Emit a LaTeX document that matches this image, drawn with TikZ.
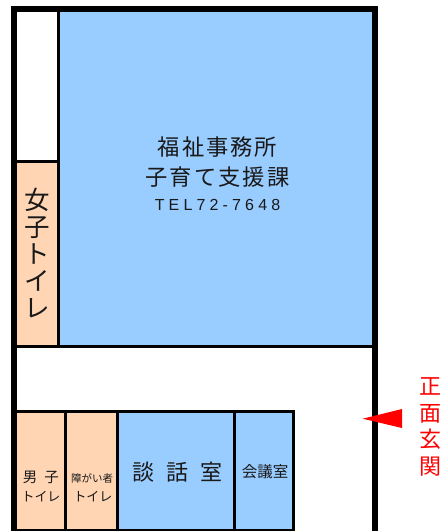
\documentclass[tikz,border=0pt]{standalone}
\usepackage{fontspec}
\setmainfont{Noto Sans CJK JP}
\newfontfamily\telfont[LetterSpace=26]{Liberation Sans}
\newfontfamily\spacedfont[LetterSpace=9]{Noto Sans CJK JP}
\usetikzlibrary{positioning}
\definecolor{roomblue}{HTML}{99CCFF}
\definecolor{roompeach}{HTML}{FFD5B3}
\tikzset{
  wall/.style={line width=3pt, line join=miter},
  outerwall/.style={line width=6pt, line join=miter},
  label/.style={inner sep=0pt, align=center, text=black!90},
}
\begin{document}
\begin{tikzpicture}[x=1pt, y=-1pt]
\useasboundingbox (0,0) rectangle (444,531);
% rooms
\fill[roomblue] (58.5,12) rectangle (373,346.5);
\fill[roompeach] (15,161.5) rectangle (58.5,346.5);
\fill[roompeach] (15,411.5) rectangle (117.5,530);
\fill[roomblue] (117.5,411.5) rectangle (293.5,530);
% inner walls
\draw[wall] (58.5,10)--(58.5,346.5);
\draw[wall] (15,161.5)--(58.5,161.5);
\draw[wall] (15,346.5)--(373,346.5);
\draw[wall] (15,411.5)--(293.5,411.5)--(293.5,530);
\draw[wall] (65.5,411.5)--(65.5,530);
\draw[wall] (117.5,411.5)--(117.5,530);
\draw[wall] (234.5,411.5)--(234.5,530);
\draw[line width=3pt] (11,530.2)--(295,530.2);
% outer walls
\draw[outerwall] (14,531)--(14,9)--(375,9)--(375,531);
% entrance
\fill[red] (362.7,418.7)--(402,409)--(402,428)--cycle;
% labels
\node[label, font=\fontsize{22.3}{30}\spacedfont] (office) at (217.5,162) {福祉事務所\\子育て支援課};
\node[label, font=\fontsize{16}{18}\telfont] (tel) at (217.5,205) {TEL72-7648};
\node[label, font=\fontsize{25.5}{27}\selectfont] (women) at (37,253.5) {女\\子\\ト\\イ\\レ};
\node[label, font=\fontsize{14.5}{16}\selectfont] (men) at (41,477) {男\hspace{7pt}子};
\node[label, font=\fontsize{13}{14}\selectfont] (mentoilet) at (41,497) {トイレ};
\node[label, font=\fontsize{10.5}{12}\selectfont] (access) at (92,478) {障がい者};
\node[label, font=\fontsize{13}{14}\selectfont] (accesstoilet) at (93,497) {トイレ};
\node[label, font=\fontsize{22}{24}\selectfont] (talk) at (177.5,472) {談\hspace{12pt}話\hspace{12pt}室};
\node[label, font=\fontsize{15.5}{17}\selectfont] (meeting) at (265,472) {会議室};
\node[label, text=red, font=\fontsize{22}{26.5}\selectfont] (entrance) at (430,427) {正\\面\\玄\\関};
\end{tikzpicture}
\end{document}
